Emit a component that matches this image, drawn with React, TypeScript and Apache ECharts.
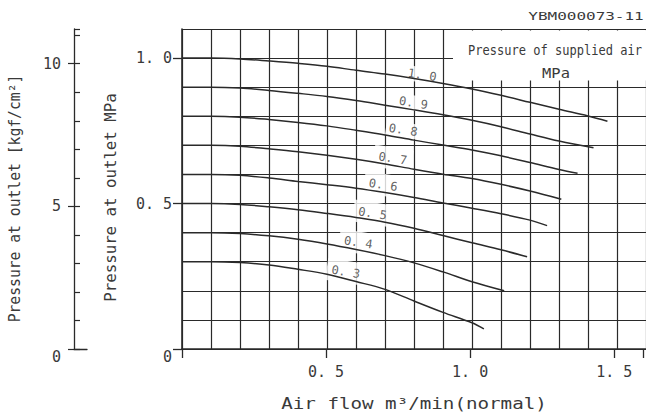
import React, { useEffect, useRef } from "react";
import * as echarts from "echarts";

// ---------- data ----------
const SUPPLY_LABELS = ["1. 0", "0. 9", "0. 8", "0. 7", "0. 6", "0. 5", "0. 4", "0. 3"];

const CURVE_10 = [[0, 1.0], [0.1, 1.0], [0.2, 0.997], [0.3, 0.99], [0.4, 0.982], [0.5, 0.972], [0.6, 0.958], [0.7, 0.945], [0.8, 0.93], [0.9, 0.913], [1.0, 0.894], [1.1, 0.872], [1.2, 0.848], [1.3, 0.824], [1.4, 0.801], [1.467, 0.783]];
const CURVE_09 = [[0, 0.9], [0.1, 0.9], [0.2, 0.897], [0.3, 0.889], [0.4, 0.879], [0.5, 0.868], [0.6, 0.854], [0.7, 0.838], [0.8, 0.822], [0.9, 0.805], [1.0, 0.786], [1.1, 0.764], [1.2, 0.739], [1.3, 0.715], [1.419, 0.692]];
const CURVE_08 = [[0, 0.8], [0.1, 0.8], [0.2, 0.797], [0.3, 0.789], [0.4, 0.779], [0.5, 0.767], [0.6, 0.752], [0.7, 0.736], [0.8, 0.718], [0.9, 0.701], [1.0, 0.684], [1.1, 0.664], [1.2, 0.641], [1.3, 0.617], [1.364, 0.604]];
const CURVE_07 = [[0, 0.7], [0.1, 0.7], [0.2, 0.697], [0.3, 0.688], [0.4, 0.678], [0.5, 0.666], [0.6, 0.652], [0.7, 0.636], [0.8, 0.618], [0.9, 0.601], [1.0, 0.586], [1.1, 0.566], [1.2, 0.543], [1.308, 0.515]];
const CURVE_06 = [[0, 0.6], [0.1, 0.6], [0.2, 0.597], [0.3, 0.588], [0.4, 0.576], [0.5, 0.565], [0.6, 0.553], [0.7, 0.538], [0.8, 0.521], [0.9, 0.502], [1.0, 0.484], [1.1, 0.465], [1.2, 0.443], [1.259, 0.424]];
const CURVE_05 = [[0, 0.5], [0.1, 0.5], [0.2, 0.497], [0.3, 0.489], [0.4, 0.479], [0.5, 0.466], [0.6, 0.452], [0.7, 0.436], [0.8, 0.415], [0.9, 0.39], [1.0, 0.365], [1.1, 0.341], [1.19, 0.317]];
const CURVE_04 = [[0, 0.4], [0.1, 0.4], [0.2, 0.397], [0.3, 0.389], [0.4, 0.377], [0.5, 0.361], [0.6, 0.342], [0.7, 0.321], [0.8, 0.296], [0.9, 0.265], [1.0, 0.231], [1.111, 0.2]];
const CURVE_03 = [[0, 0.3], [0.1, 0.3], [0.2, 0.297], [0.3, 0.289], [0.4, 0.274], [0.5, 0.257], [0.6, 0.232], [0.7, 0.205], [0.8, 0.165], [0.9, 0.126], [1.0, 0.09], [1.041, 0.069]];

// label anchor points (flow, pressure) for each curve label
const LABEL_POINTS = [[0.828, 0.942], [0.798, 0.846], [0.763, 0.753], [0.727, 0.655], [0.694, 0.564], [0.657, 0.466], [0.608, 0.366], [0.565, 0.265]];

const X_TICK_LABELS = ["0. 5", "1. 0", "1. 5"];
const KGF_TICK_LABELS = ["0", "5", "10"];

const CURVES = [CURVE_10, CURVE_09, CURVE_08, CURVE_07, CURVE_06, CURVE_05, CURVE_04, CURVE_03];

// ---------- layout ----------
const X_MAX = 1.6;
const Y_MAX = 1.1;
const MPA_TO_KGF = 1 / 0.0980665;
const PX = 290.9; // px per unit
const GL = 182;
const GB = 349;
const GT = GB - Y_MAX * PX;
const GW = X_MAX * PX;
const FONT = "DejaVu Sans Mono";
const INK = "#2a2a2a";
const TXT = "#3a3a3a";

const fmt = (v: number) => v.toFixed(1).replace(".", ". ");

export default function App() {
  const ref = useRef<HTMLDivElement>(null);
  useEffect(() => {
    if (!ref.current) return;
    const chart = echarts.init(ref.current, undefined, { renderer: "svg" });
    const grids = [
      { left: GL, top: GT, width: GW, height: Y_MAX * PX, containLabel: false },
      { left: GL, top: GB - 1.0 * PX, width: GW, height: 1.0 * PX, containLabel: false },
      { left: 74, top: GT, width: 13, height: Y_MAX * PX, containLabel: false },
      { left: 74, top: GB - (10 / MPA_TO_KGF) * PX, width: 13, height: (10 / MPA_TO_KGF) * PX, containLabel: false },
    ];
    const hidden = { show: false };
    const option: any = {
      animation: false,
      backgroundColor: "#fff",
      grid: grids,
      xAxis: [
        {
          gridIndex: 0, type: "value", min: 0, max: X_MAX, interval: 0.1,
          axisLine: { show: true, onZero: false, lineStyle: { color: INK, width: 1.6 } },
          axisTick: hidden, axisLabel: hidden,
          splitLine: { show: true, lineStyle: { color: INK, width: 1.2 } },
        },
        {
          gridIndex: 1, type: "value", min: 0, max: X_MAX, interval: 0.5,
          axisLine: hidden,
          axisTick: { show: true, length: 9, lineStyle: { color: INK, width: 1.3 } },
          axisLabel: {
            show: true, margin: 15, fontSize: 15, fontFamily: FONT, color: TXT,
            formatter: (v: number) => {
              const i = Math.round(v / 0.5) - 1;
              return i >= 0 && i < X_TICK_LABELS.length && Math.abs(v - (i + 1) * 0.5) < 1e-6 ? X_TICK_LABELS[i] : "";
            },
          },
          splitLine: hidden,
        },
        {
          gridIndex: 2, type: "value", min: 0, max: 1,
          axisLine: { show: true, onZero: false, lineStyle: { color: INK, width: 1.3 } },
          axisTick: hidden, axisLabel: hidden, splitLine: hidden,
        },
        {
          gridIndex: 3, type: "value", min: 0, max: 1, show: false,
        },
      ],
      yAxis: [
        {
          gridIndex: 0, type: "value", min: 0, max: Y_MAX, interval: 0.1,
          axisLine: { show: true, onZero: false, lineStyle: { color: INK, width: 1.6 } },
          axisTick: hidden, axisLabel: hidden,
          splitLine: { show: true, lineStyle: { color: INK, width: 1.2 } },
        },
        {
          gridIndex: 1, type: "value", min: 0, max: 1.0, interval: 0.5,
          axisLine: hidden,
          axisTick: { show: true, length: 9, lineStyle: { color: INK, width: 1.3 } },
          axisLabel: {
            show: true, margin: 10, fontSize: 15, fontFamily: FONT, color: TXT,
            formatter: (v: number) => (v === 0 ? "{z|0}" : fmt(v)),
            rich: { z: { padding: [16, 0, 0, 0], fontSize: 15, fontFamily: FONT, color: TXT } },
          },
          splitLine: hidden,
        },
        {
          gridIndex: 2, type: "value", min: 0, max: Y_MAX * MPA_TO_KGF, interval: 1,
          axisLine: { show: true, onZero: false, lineStyle: { color: INK, width: 1.3 } },
          axisTick: { show: true, inside: true, length: 6, lineStyle: { color: INK, width: 1.2 } },
          axisLabel: hidden, splitLine: hidden,
        },
        {
          gridIndex: 3, type: "value", min: 0, max: 10, interval: 5,
          axisLine: hidden,
          axisTick: { show: true, inside: false, length: 6, lineStyle: { color: INK, width: 1.2 } },
          axisLabel: {
            show: true, margin: 13, fontSize: 15, fontFamily: FONT, color: TXT,
            formatter: (v: number) => {
              const s = KGF_TICK_LABELS[Math.round(v / 5)] || "";
              return v === 0 ? "{z|" + s + "}" : s;
            },
            rich: { z: { padding: [16, 0, 0, 0], fontSize: 15, fontFamily: FONT, color: TXT } },
          },
          splitLine: hidden,
        },
      ],
      series: [
        {
          type: "scatter", xAxisIndex: 0, yAxisIndex: 0, z: 1,
          symbolSize: 1, itemStyle: { color: "rgba(0,0,0,0)" },
          data: LABEL_POINTS.map((p, i) => ({
            value: p,
            label: { padding: i < 3 ? [2, 3, 1, 3] : [8, 5, 2, 5] },
          })),
          label: {
            show: true, position: "inside", rotate: -9,
            fontSize: 12, fontFamily: FONT, color: TXT,
            backgroundColor: "#fff",
            formatter: (p: any) => SUPPLY_LABELS[p.dataIndex],
          },
          silent: true,
        },
        ...CURVES.map((c) => ({
          type: "line", xAxisIndex: 0, yAxisIndex: 0, z: 3,
          data: c, showSymbol: false, symbol: "none",
          smooth: 0.35,
          lineStyle: { color: INK, width: 1.5 },
          silent: true,
        })),
      ],
      graphic: [
        {
          type: "rect", z: 5, silent: true,
          shape: { x: 453, y: 30.5, width: 200, height: 50 },
          style: { fill: "#fff" },
        },
        {
          type: "text", z: 6, x: 555, y: 50, scaleX: 0.86,
          style: { text: "Pressure of supplied air", fontSize: 14, fontFamily: FONT, fill: TXT, align: "center", verticalAlign: "middle" },
        },
        {
          type: "text", z: 6, x: 556, y: 72.5, scaleX: 1.1,
          style: { text: "MPa", fontSize: 14, fontFamily: FONT, fill: TXT, align: "center", verticalAlign: "middle" },
        },
        {
          type: "text", z: 6, x: 586, y: 16.5, scaleX: 1.6,
          style: { text: "YBM000073-11", fontSize: 10, fontFamily: FONT, fill: TXT, align: "center", verticalAlign: "middle" },
        },
        {
          type: "text", z: 6, x: 414, y: 403.5, scaleX: 1.2,
          style: { text: "Air flow m³/min(normal)", fontSize: 16, fontFamily: FONT, fill: TXT, align: "center", verticalAlign: "middle" },
        },
        {
          type: "text", z: 6, x: 15, y: 198.5, rotation: Math.PI / 2, scaleX: 0.98,
          style: { text: "Pressure at outlet [kgf/cm²]", fontSize: 15, fontFamily: FONT, fill: TXT, align: "center", verticalAlign: "middle" },
        },
        {
          type: "text", z: 6, x: 111, y: 197.5, rotation: Math.PI / 2, scaleX: 1.05,
          style: { text: "Pressure at outlet MPa", fontSize: 15, fontFamily: FONT, fill: TXT, align: "center", verticalAlign: "middle" },
        },
      ],
    };
    chart.setOption(option);
    return () => chart.dispose();
  }, []);
  return (
    <div
      ref={ref}
      style={{ position: "fixed", left: 0, top: 0, width: 646, height: 412, background: "#fff" }}
    />
  );
}
